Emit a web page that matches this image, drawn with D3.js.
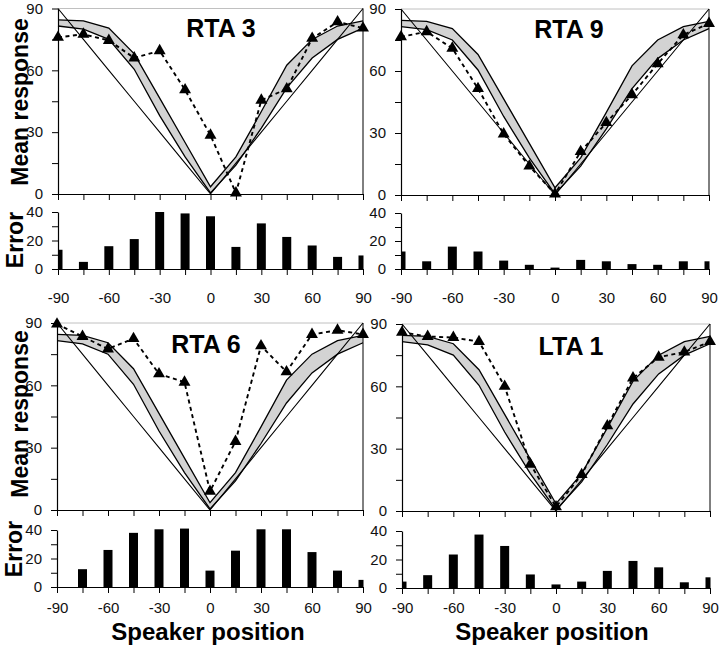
<!DOCTYPE html>
<html>
<head>
<meta charset="utf-8">
<script src="https://cdn.jsdelivr.net/npm/d3@7"></script>
<style>
  body { margin: 0; background: #fff; }
  svg { display: block; }
  .tick text { font-family: "Liberation Sans", Arial, sans-serif; font-size: 15px; fill: #111; }
  .ttl { font-family: "Liberation Sans", Arial, sans-serif; font-weight: bold; fill: #000; }
</style>
</head>
<body>
<script>
// ---------------- DATA ----------------
const positions = [-90, -75, -60, -45, -30, -15, 0, 15, 30, 45, 60, 75, 90];
const normalUpper = [84.5, 84, 80.5, 68, 46.5, 25, 3.5, 18, 40, 62.5, 75, 81.5, 84];
const normalLower = [81.5, 80, 75, 60.5, 38, 18, 0.5, 14, 32, 51.5, 66, 75, 80.5];

const panelNames = ["RTA 3", "RTA 9", "RTA 6", "LTA 1"];

const rta3Response = [76, 77.5, 74.5, 66, 69.5, 50.5, 28.5, 0.5, 45.5, 51, 75.5, 83.5, 80.5];
const rta9Response = [76.5, 79, 71, 51.5, 29.5, 14, 0.5, 21, 35, 48.5, 63.5, 77.5, 83];
const rta6Response = [89.5, 83.5, 77.5, 82.5, 65.5, 61.5, 9, 33, 79, 66.5, 84.5, 86.5, 84.5];
const lta1Response = [86, 84, 83.5, 81.5, 60, 22.5, 2, 17.5, 41, 64, 74, 76.5, 81.5];

const rta3Error = [13.5, 5, 16, 21, 40, 39, 37, 15.5, 32, 22.5, 16.5, 8.5, 9.5];
const rta9Error = [12.5, 5.5, 16, 12.5, 6, 3, 1, 6.5, 5.5, 3.5, 3, 5.5, 5.5];
const rta6Error = [0, 12.5, 26, 38, 40.5, 41, 11.5, 25.5, 40.5, 40.5, 24.5, 11.5, 5];
const lta1Error = [4.5, 9, 23.5, 37.5, 29.5, 9.5, 2.5, 4.5, 12, 19, 14.5, 4, 7.5];

const meanTicks = [0, 15, 30, 45, 60, 75, 90];
const meanTickLabels = [0, 30, 60, 90];
const errorTicks = [0, 10, 20, 30, 40];
const errorTickLabels = [0, 20, 40];
const xTickLabels = [-90, -60, -30, 0, 30, 60, 90];

const responses = [rta3Response, rta9Response, rta6Response, lta1Response];
const errors = [rta3Error, rta9Error, rta6Error, lta1Error];

// ---------------- LAYOUT ----------------
const W = 720, H = 651;
const layouts = [
  {x0: 58, x1: 363, my90: 8.5, my0: 194, ey40: 212, ey0: 269, tx: 221, ty: 37, xpad: 17},
  {x0: 401, x1: 709, my90: 9, my0: 195, ey40: 213, ey0: 269, tx: 569, ty: 38, xpad: 17},
  {x0: 57, x1: 363, my90: 323, my0: 510, ey40: 530, ey0: 587, tx: 206, ty: 353, xpad: 9},
  {x0: 402, x1: 710, my90: 324, my0: 511, ey40: 531, ey0: 588, tx: 571, ty: 355, xpad: 8}
];

const svg = d3.select("body").append("svg").attr("width", W).attr("height", H);
const defs = svg.append("defs");

layouts.forEach((L, i) => {
  const g = svg.append("g");
  const x = d3.scaleLinear().domain([-90, 90]).range([L.x0, L.x1]);
  const y = d3.scaleLinear().domain([0, 90]).range([L.my0, L.my90]);
  const ye = d3.scaleLinear().domain([0, 40]).range([L.ey0, L.ey40]);

  // top light line at 90
  g.append("line").attr("x1", x(-90)).attr("x2", x(90)).attr("y1", y(90)).attr("y2", y(90))
    .attr("stroke", "#c0c0c0").attr("stroke-width", 1);

  // normal band
  const bandData = positions.map((p, k) => ({p, hi: normalUpper[k], lo: normalLower[k]}));
  g.append("path").datum(bandData)
    .attr("d", d3.area().x(d => x(d.p)).y0(d => y(d.lo)).y1(d => y(d.hi)))
    .attr("fill", "#d3d3d3").attr("stroke", "none");
  g.append("path").datum(bandData)
    .attr("d", d3.line().x(d => x(d.p)).y(d => y(d.hi)))
    .attr("fill", "none").attr("stroke", "#000").attr("stroke-width", 1.3);
  g.append("path").datum(bandData)
    .attr("d", d3.line().x(d => x(d.p)).y(d => y(d.lo)))
    .attr("fill", "none").attr("stroke", "#000").attr("stroke-width", 1.3);

  // ideal V line
  g.append("path").datum(positions)
    .attr("d", d3.line().x(d => x(d)).y(d => y(Math.abs(d))))
    .attr("fill", "none").attr("stroke", "#000").attr("stroke-width", 1.1);

  // axes (mean)
  const yAxis = d3.axisLeft(y).tickValues(meanTicks).tickSize(6).tickSizeOuter(0).tickPadding(9)
    .tickFormat(d => meanTickLabels.includes(d) ? d : "");
  g.append("g").attr("transform", `translate(${L.x0},0)`).call(yAxis);
  const xAxis = d3.axisBottom(x).tickValues(positions).tickSize(6).tickSizeOuter(0).tickFormat("");
  g.append("g").attr("transform", `translate(0,${L.my0})`).call(xAxis);
  // right border
  g.append("line").attr("x1", x(90)).attr("x2", x(90)).attr("y1", y(0)).attr("y2", y(90))
    .attr("stroke", "#000").attr("stroke-width", 1);

  // subject data
  const resp = responses[i];
  const pts = positions.map((p, k) => ({p, v: resp[k]}));
  g.append("path").datum(pts)
    .attr("d", d3.line().x(d => x(d.p)).y(d => y(d.v)))
    .attr("fill", "none").attr("stroke", "#000").attr("stroke-width", 1.9)
    .attr("stroke-dasharray", "4,3.5");
  g.selectAll(".tri").data(pts).join("path")
    .attr("transform", d => `translate(${x(d.p)},${y(d.v)})`)
    .attr("d", d3.symbol().type(d3.symbolTriangle).size(62))
    .attr("fill", "#000");

  // title
  g.append("text").attr("class", "ttl").attr("x", L.tx).attr("y", L.ty)
    .attr("text-anchor", "middle").attr("font-size", 25).text(panelNames[i]);

  // error bars
  const cid = "clip" + i;
  defs.append("clipPath").attr("id", cid).append("rect")
    .attr("x", L.x0).attr("y", L.ey40 - 10).attr("width", L.x1 - L.x0 + 0.5).attr("height", L.ey0 - L.ey40 + 10);
  const err = errors[i];
  g.append("g").attr("clip-path", `url(#${cid})`).selectAll("rect")
    .data(positions.map((p, k) => ({p, v: err[k]})))
    .join("rect")
    .attr("x", d => x(d.p) - 4.5).attr("width", 9)
    .attr("y", d => ye(d.v)).attr("height", d => ye(0) - ye(d.v))
    .attr("fill", "#000");
  const eyAxis = d3.axisLeft(ye).tickValues(errorTicks).tickSize(6).tickSizeOuter(0).tickPadding(9)
    .tickFormat(d => errorTickLabels.includes(d) ? d : "");
  g.append("g").attr("transform", `translate(${L.x0},0)`).call(eyAxis);
  const exAxis = d3.axisBottom(x).tickValues(positions).tickSize(6).tickSizeOuter(0).tickPadding(L.xpad)
    .tickFormat(d => xTickLabels.includes(d) ? d : "");
  g.append("g").attr("transform", `translate(0,${L.ey0})`).call(exAxis);
});

svg.selectAll(".domain").attr("stroke", "#000").attr("stroke-width", 1.2);
svg.selectAll(".tick line").attr("stroke", "#000").attr("stroke-width", 1);

// axis titles
const axisTitles = [
  {t: "Mean response", x: 28, y: 102, rot: true, fs: 23},
  {t: "Error", x: 23, y: 240, rot: true, fs: 23},
  {t: "Mean response", x: 28, y: 414, rot: true, fs: 23},
  {t: "Error", x: 22, y: 549, rot: true, fs: 23},
  {t: "Speaker position", x: 208, y: 640, rot: false, fs: 24},
  {t: "Speaker position", x: 552, y: 640, rot: false, fs: 24}
];
axisTitles.forEach(a => {
  const t = svg.append("text").attr("class", "ttl").attr("font-size", a.fs)
    .attr("text-anchor", "middle").text(a.t);
  if (a.rot) t.attr("transform", `translate(${a.x},${a.y}) rotate(-90)`);
  else t.attr("x", a.x).attr("y", a.y);
});
</script>
</body>
</html>
